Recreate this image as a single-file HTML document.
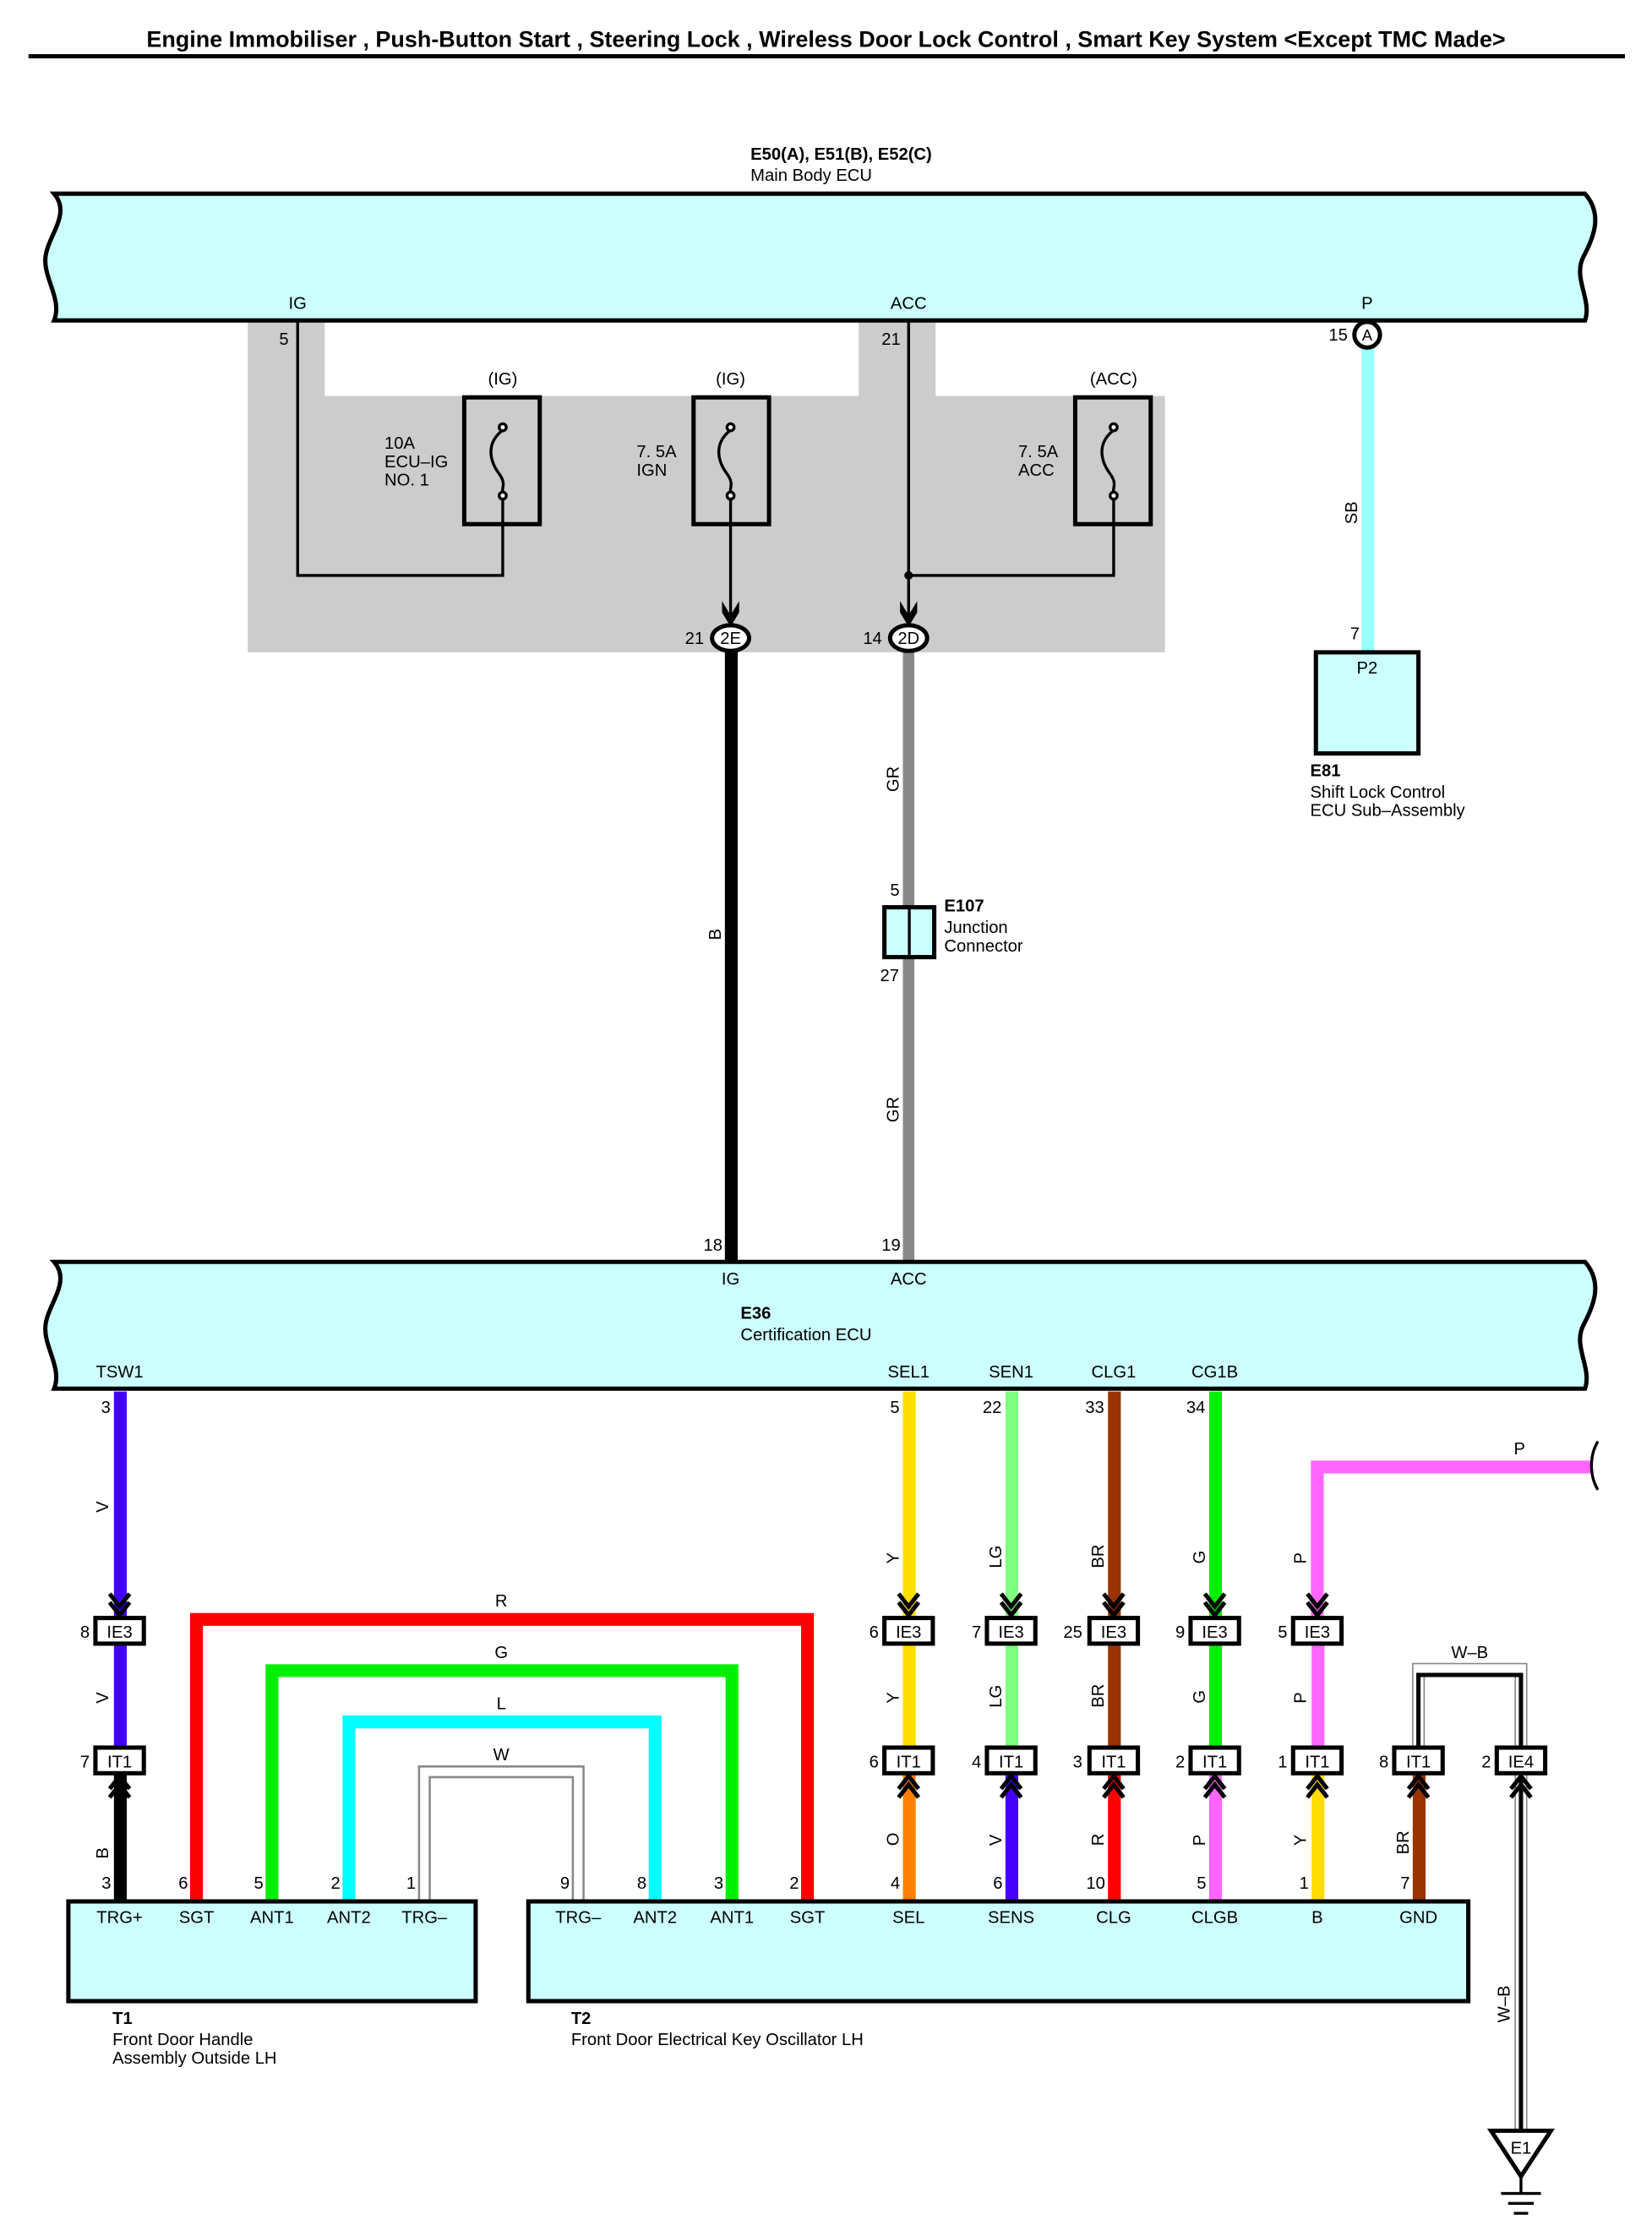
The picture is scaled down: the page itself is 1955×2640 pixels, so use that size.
<!DOCTYPE html>
<html><head><meta charset="utf-8"><style>
html,body{margin:0;padding:0;background:#fff}
svg{display:block}
text{font-family:"Liberation Sans",Arial,sans-serif;font-size:12px;fill:#000}
.b{font-weight:bold}
</style></head><body>
<svg width="1955" height="2640" viewBox="0 0 1160 1566.4" xmlns="http://www.w3.org/2000/svg" preserveAspectRatio="none">
<defs>
<g id="dn"><path d="M-7,-16 L0,-7 L7,-16 M-7,-10 L0,-1 L7,-10" fill="none" stroke="#000" stroke-width="3"/></g>
<g id="up"><path d="M-7,16 L0,7 L7,16 M-7,10 L0,1 L7,10" fill="none" stroke="#000" stroke-width="3"/></g>
</defs>
<!-- title -->
<text x="580" y="33" text-anchor="middle" class="b" style="font-size:16px">Engine Immobiliser , Push-Button Start , Steering Lock , Wireless Door Lock Control , Smart Key System &lt;Except TMC Made&gt;</text>
<rect x="20" y="38" width="1121" height="3" fill="#000"/>

<!-- gray area -->
<path d="M174,225 H228 V278 H603 V225 H657 V278 H818 V458 H174 Z" fill="#cccccc"/>

<!-- Main body ECU -->
<text x="527" y="112" class="b">E50(A), E51(B), E52(C)</text>
<text x="527" y="127">Main Body ECU</text>
<path d="M38,136 H1113 C1125,150 1120,165 1112,180 C1104,195 1118,210 1113,225 H38 C44,210 30,195 32,180 C34,165 50,150 38,136 Z" fill="#ccffff" stroke="#000" stroke-width="3"/>
<text x="209" y="217" text-anchor="middle">IG</text>
<text x="638" y="217" text-anchor="middle">ACC</text>
<text x="960" y="217" text-anchor="middle">P</text>

<!-- fuses -->
<text x="353" y="270" text-anchor="middle">(IG)</text>
<text x="513" y="270" text-anchor="middle">(IG)</text>
<text x="782" y="270" text-anchor="middle">(ACC)</text>
<rect x="326" y="279" width="53" height="89" fill="none" stroke="#000" stroke-width="3"/>
<rect x="487" y="279" width="53" height="89" fill="none" stroke="#000" stroke-width="3"/>
<rect x="755" y="279" width="53" height="89" fill="none" stroke="#000" stroke-width="3"/>
<g fill="none" stroke="#000" stroke-width="2">
<path d="M353,302 C340,312 345,325 350,332 C356,340 352,342 353,346"/>
<circle cx="353" cy="300" r="2.5" fill="#fff"/><circle cx="353" cy="348" r="2.5" fill="#fff"/>
<path d="M513,302 C500,312 505,325 510,332 C516,340 512,342 513,346"/>
<circle cx="513" cy="300" r="2.5" fill="#fff"/><circle cx="513" cy="348" r="2.5" fill="#fff"/>
<path d="M782,302 C769,312 774,325 779,332 C785,340 781,342 782,346"/>
<circle cx="782" cy="300" r="2.5" fill="#fff"/><circle cx="782" cy="348" r="2.5" fill="#fff"/>
</g>
<text x="270" y="315">10A</text><text x="270" y="328">ECU–IG</text><text x="270" y="341">NO. 1</text>
<text x="447" y="321">7. 5A</text><text x="447" y="334">IGN</text>
<text x="715" y="321">7. 5A</text><text x="715" y="334">ACC</text>

<!-- internal wires -->
<g fill="none" stroke="#000" stroke-width="2">
<path d="M209,225 V404 H353 V350"/>
<path d="M513,350 V440"/>
<path d="M638,225 V440"/>
<path d="M638,404 H782 V350"/>
</g>
<circle cx="638" cy="404" r="3" fill="#000"/>
<text x="196" y="242">5</text>
<text x="619" y="242">21</text>
<path d="M507,422 L513,432 L519,422 L519,430 L513,440 L507,430 Z" fill="#000"/>
<path d="M632,422 L638,432 L644,422 L644,430 L638,440 L632,430 Z" fill="#000"/>

<!-- bottom wires -->
<rect x="509" y="448" width="9" height="440" fill="#000"/>
<rect x="634" y="448" width="8" height="440" fill="#888"/>
<ellipse cx="513" cy="448" rx="13" ry="9" fill="#fff" stroke="#000" stroke-width="3"/>
<text x="513" y="452" text-anchor="middle">2E</text>
<text x="481" y="452">21</text>
<ellipse cx="638" cy="448" rx="13" ry="9" fill="#fff" stroke="#000" stroke-width="3"/>
<text x="638" y="452" text-anchor="middle">2D</text>
<text x="606" y="452">14</text>
<text transform="translate(506,660) rotate(-90)">B</text>
<text transform="translate(631,556) rotate(-90)">GR</text>
<text transform="translate(631,788) rotate(-90)">GR</text>
<!-- E107 -->
<rect x="621" y="637" width="35" height="35" fill="#ccffff" stroke="#000" stroke-width="3"/>
<line x1="638.5" y1="637" x2="638.5" y2="672" stroke="#000" stroke-width="2"/>
<text x="625" y="629">5</text>
<text x="618" y="689">27</text>
<text x="663" y="640" class="b">E107</text>
<text x="663" y="655">Junction</text>
<text x="663" y="668">Connector</text>

<!-- SB / E81 -->
<rect x="956" y="244" width="9" height="214" fill="#99ffff"/>
<circle cx="960" cy="235" r="9" fill="#fff" stroke="#000" stroke-width="3"/>
<text x="960" y="239" text-anchor="middle" style="font-size:11px">A</text>
<text x="933" y="239">15</text>
<text transform="translate(953,368) rotate(-90)">SB</text>
<text x="948" y="449">7</text>
<rect x="924" y="458" width="72" height="71" fill="#ccffff" stroke="#000" stroke-width="3"/>
<text x="960" y="473" text-anchor="middle">P2</text>
<text x="920" y="545" class="b">E81</text>
<text x="920" y="560">Shift Lock Control</text>
<text x="920" y="573">ECU Sub–Assembly</text>

<!-- Certification ECU -->
<path d="M38,886 H1113 C1125,900 1120,915 1112,930 C1104,945 1118,960 1113,975 H38 C44,960 30,945 32,930 C34,915 50,900 38,886 Z" fill="#ccffff" stroke="#000" stroke-width="3"/>
<text x="494" y="878">18</text>
<text x="619" y="878">19</text>
<text x="513" y="902" text-anchor="middle">IG</text>
<text x="638" y="902" text-anchor="middle">ACC</text>
<text x="520" y="926" class="b">E36</text>
<text x="520" y="941">Certification ECU</text>
<text x="84" y="967" text-anchor="middle">TSW1</text>
<text x="638" y="967" text-anchor="middle">SEL1</text>
<text x="710" y="967" text-anchor="middle">SEN1</text>
<text x="782" y="967" text-anchor="middle">CLG1</text>
<text x="853" y="967" text-anchor="middle">CG1B</text>

<!-- upper vertical wires -->
<rect x="80" y="977" width="9" height="159" fill="#4400ff"/>
<rect x="634" y="977" width="9" height="159" fill="#ffdd00"/>
<rect x="706" y="977" width="9" height="159" fill="#80ff80"/>
<rect x="778" y="977" width="9" height="159" fill="#993300"/>
<rect x="849" y="977" width="9" height="159" fill="#00ee00"/>
<path d="M925,1136 V1030 H1118" fill="none" stroke="#ff66ff" stroke-width="9"/>
<path d="M1122,1012 C1116,1022 1116,1036 1122,1046" fill="none" stroke="#000" stroke-width="2"/>
<text x="1063" y="1021">P</text>
<text x="71" y="992">3</text><text x="625" y="992">5</text><text x="690" y="992">22</text><text x="762" y="992">33</text><text x="833" y="992">34</text>
<text transform="translate(76,1062) rotate(-90)">V</text>
<text transform="translate(631,1098) rotate(-90)">Y</text>
<text transform="translate(703,1101) rotate(-90)">LG</text>
<text transform="translate(775,1101) rotate(-90)">BR</text>
<text transform="translate(846,1098) rotate(-90)">G</text>
<text transform="translate(917,1098) rotate(-90)">P</text>

<!-- mid wires -->
<rect x="80" y="1150" width="9" height="80" fill="#4400ff"/>
<rect x="634" y="1150" width="9" height="80" fill="#ffdd00"/>
<rect x="706" y="1150" width="9" height="80" fill="#80ff80"/>
<rect x="778" y="1150" width="9" height="80" fill="#993300"/>
<rect x="849" y="1150" width="9" height="80" fill="#00ee00"/>
<rect x="921" y="1150" width="9" height="80" fill="#ff66ff"/>
<text transform="translate(76,1196) rotate(-90)">V</text>
<text transform="translate(631,1196) rotate(-90)">Y</text>
<text transform="translate(703,1199) rotate(-90)">LG</text>
<text transform="translate(775,1199) rotate(-90)">BR</text>
<text transform="translate(846,1196) rotate(-90)">G</text>
<text transform="translate(917,1196) rotate(-90)">P</text>

<!-- lower wires -->
<rect x="80" y="1245" width="9" height="90" fill="#000"/>
<rect x="634" y="1245" width="9" height="90" fill="#ff8000"/>
<rect x="706" y="1245" width="9" height="90" fill="#4400ff"/>
<rect x="778" y="1245" width="9" height="90" fill="#ff0000"/>
<rect x="849" y="1245" width="9" height="90" fill="#ff66ff"/>
<rect x="921" y="1245" width="9" height="90" fill="#ffdd00"/>
<rect x="992" y="1245" width="9" height="90" fill="#993300"/>
<text transform="translate(76,1305) rotate(-90)">B</text>
<text transform="translate(631,1296) rotate(-90)">O</text>
<text transform="translate(703,1296) rotate(-90)">V</text>
<text transform="translate(775,1296) rotate(-90)">R</text>
<text transform="translate(846,1296) rotate(-90)">P</text>
<text transform="translate(917,1296) rotate(-90)">Y</text>
<text transform="translate(989,1302) rotate(-90)">BR</text>

<!-- loops -->
<path d="M138,1335 V1137 H567 V1335" fill="none" stroke="#ff0000" stroke-width="9"/>
<path d="M191,1335 V1173 H514 V1335" fill="none" stroke="#00ee00" stroke-width="9"/>
<path d="M245,1335 V1209 H460 V1335" fill="none" stroke="#00ffff" stroke-width="9"/>
<path d="M298,1335 V1244 H406 V1335" fill="none" stroke="#888" stroke-width="9"/>
<path d="M298,1335 V1244 H406 V1335" fill="none" stroke="#fff" stroke-width="6"/>
<text x="352" y="1128" text-anchor="middle">R</text>
<text x="352" y="1164" text-anchor="middle">G</text>
<text x="352" y="1200" text-anchor="middle">L</text>
<text x="352" y="1236" text-anchor="middle">W</text>

<!-- W-B -->
<path d="M996,1230 V1172 H1068 V1497" fill="none" stroke="#888" stroke-width="9"/>
<path d="M996,1230 V1172 H1068 V1497" fill="none" stroke="#fff" stroke-width="7"/>
<path d="M996,1230 V1176 H1068 V1497" fill="none" stroke="#000" stroke-width="3"/>
<text x="1032" y="1164" text-anchor="middle">W–B</text>
<text transform="translate(1060,1420) rotate(-90)">W–B</text>
<path d="M1047,1496 H1089 L1068,1528 Z" fill="#fff" stroke="#000" stroke-width="3"/>
<text x="1068" y="1512" text-anchor="middle">E1</text>
<g stroke="#000" stroke-width="2"><line x1="1068" y1="1528" x2="1068" y2="1540"/><line x1="1054" y1="1540" x2="1082" y2="1540"/><line x1="1059" y1="1547" x2="1077" y2="1547"/><line x1="1063" y1="1554" x2="1073" y2="1554"/></g>

<!-- chevrons -->
<use href="#dn" x="84" y="1135"/><use href="#dn" x="638" y="1135"/><use href="#dn" x="710" y="1135"/><use href="#dn" x="782" y="1135"/><use href="#dn" x="853" y="1135"/><use href="#dn" x="925" y="1135"/>
<use href="#up" x="84" y="1246"/><use href="#up" x="638" y="1246"/><use href="#up" x="710" y="1246"/><use href="#up" x="782" y="1246"/><use href="#up" x="853" y="1246"/><use href="#up" x="925" y="1246"/><use href="#up" x="996" y="1246"/><use href="#up" x="1068" y="1246"/>

<!-- connector boxes -->
<g fill="#fff" stroke="#000" stroke-width="3">
<rect x="67" y="1136" width="34" height="18"/>
<rect x="621" y="1136" width="34" height="18"/><rect x="693" y="1136" width="34" height="18"/><rect x="765" y="1136" width="34" height="18"/><rect x="836" y="1136" width="34" height="18"/><rect x="908" y="1136" width="34" height="18"/>
<rect x="67" y="1227" width="34" height="18"/>
<rect x="621" y="1227" width="34" height="18"/><rect x="693" y="1227" width="34" height="18"/><rect x="765" y="1227" width="34" height="18"/><rect x="836" y="1227" width="34" height="18"/><rect x="908" y="1227" width="34" height="18"/><rect x="979" y="1227" width="34" height="18"/><rect x="1051" y="1227" width="34" height="18"/>
</g>
<g text-anchor="middle">
<text x="84" y="1150">IE3</text><text x="638" y="1150">IE3</text><text x="710" y="1150">IE3</text><text x="782" y="1150">IE3</text><text x="853" y="1150">IE3</text><text x="925" y="1150">IE3</text>
<text x="84" y="1241">IT1</text><text x="638" y="1241">IT1</text><text x="710" y="1241">IT1</text><text x="782" y="1241">IT1</text><text x="853" y="1241">IT1</text><text x="925" y="1241">IT1</text><text x="996" y="1241">IT1</text><text x="1068" y="1241">IE4</text>
</g>
<g text-anchor="end">
<text x="63" y="1150">8</text><text x="617" y="1150">6</text><text x="689" y="1150">7</text><text x="760" y="1150">25</text><text x="832" y="1150">9</text><text x="904" y="1150">5</text>
<text x="63" y="1241">7</text><text x="617" y="1241">6</text><text x="689" y="1241">4</text><text x="760" y="1241">3</text><text x="832" y="1241">2</text><text x="904" y="1241">1</text><text x="975" y="1241">8</text><text x="1047" y="1241">2</text>
</g>

<!-- T1 / T2 -->
<rect x="48" y="1335" width="286" height="70" fill="#ccffff" stroke="#000" stroke-width="3"/>
<rect x="371" y="1335" width="660" height="70" fill="#ccffff" stroke="#000" stroke-width="3"/>
<g text-anchor="end">
<text x="78" y="1326">3</text><text x="132" y="1326">6</text><text x="185" y="1326">5</text><text x="239" y="1326">2</text><text x="292" y="1326">1</text>
<text x="400" y="1326">9</text><text x="454" y="1326">8</text><text x="508" y="1326">3</text><text x="561" y="1326">2</text><text x="632" y="1326">4</text><text x="704" y="1326">6</text><text x="776" y="1326">10</text><text x="847" y="1326">5</text><text x="919" y="1326">1</text><text x="990" y="1326">7</text>
</g>
<g text-anchor="middle">
<text x="84" y="1350">TRG+</text><text x="138" y="1350">SGT</text><text x="191" y="1350">ANT1</text><text x="245" y="1350">ANT2</text><text x="298" y="1350">TRG–</text>
<text x="406" y="1350">TRG–</text><text x="460" y="1350">ANT2</text><text x="514" y="1350">ANT1</text><text x="567" y="1350">SGT</text><text x="638" y="1350">SEL</text><text x="710" y="1350">SENS</text><text x="782" y="1350">CLG</text><text x="853" y="1350">CLGB</text><text x="925" y="1350">B</text><text x="996" y="1350">GND</text>
</g>
<text x="79" y="1421" class="b">T1</text>
<text x="79" y="1436">Front Door Handle</text>
<text x="79" y="1449">Assembly Outside LH</text>
<text x="401" y="1421" class="b">T2</text>
<text x="401" y="1436">Front Door Electrical Key Oscillator LH</text>
</svg>
</body></html>
